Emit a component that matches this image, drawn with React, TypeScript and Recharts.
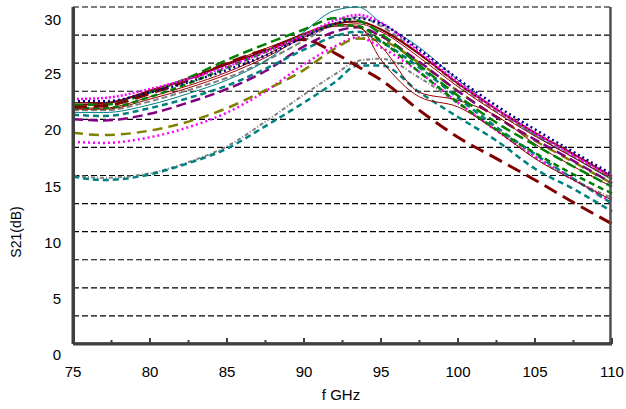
import React from "react";
import { LineChart, Line, XAxis, YAxis, ReferenceLine } from "recharts";

// frequency points (GHz)
const FREQ = [75, 77, 80, 82.5, 85, 87.5, 90, 92, 93.5, 95, 97.5, 100, 102.5, 105, 107.5, 110];

// S21 (dB) per sample
const NAVY_DOT = [21.6, 21.6, 22.4, 23.3, 24.4, 25.7, 27.3, 28.5, 29.0, 28.5, 26.2, 23.6, 21.2, 19.1, 17.1, 15.1];
const MAGENTA_DOT = [21.8, 21.9, 22.7, 23.6, 24.7, 26.0, 27.5, 28.8, 29.3, 28.6, 26.0, 23.3, 20.9, 18.8, 16.8, 14.9];
const GREEN_LONG = [21.3, 21.3, 22.4, 23.7, 25.3, 26.7, 28.0, 29.0, 28.8, 27.6, 24.8, 22.1, 19.7, 17.7, 15.8, 14.0];
const GREEN_SHORT = [21.0, 21.0, 22.0, 23.2, 24.6, 26.0, 27.5, 28.4, 28.3, 27.0, 24.2, 21.5, 19.1, 17.0, 15.1, 13.4];
const RED_THICK = [21.3, 21.4, 22.5, 23.6, 24.9, 26.1, 27.6, 28.5, 28.7, 28.0, 25.8, 23.2, 20.9, 18.8, 16.9, 14.9];
const RED_THIN_C = [21.5, 21.5, 22.6, 23.7, 25.0, 26.3, 27.6, 28.3, 28.5, 27.8, 25.5, 22.9, 20.6, 18.5, 16.6, 14.7];
const RED_THIN_A = [20.9, 20.9, 21.8, 22.8, 24.0, 25.5, 27.3, 28.3, 28.3, 25.3, 22.0, 21.1, 19.0, 16.5, 14.6, 12.8];
const RED_THIN_B = [21.0, 21.0, 22.0, 23.0, 24.2, 25.7, 27.5, 28.5, 28.2, 26.5, 22.4, 21.7, 20.3, 17.8, 15.8, 14.0];
const MAROON_DASH = [21.1, 21.2, 22.3, 23.5, 25.0, 26.2, 27.1, 25.9, 24.7, 23.5, 20.8, 18.4, 16.5, 14.6, 12.6, 10.7];
const TEAL_SOLID = [20.6, 20.6, 21.3, 22.3, 23.5, 25.2, 27.8, 29.7, 30.0, 28.6, 26.4, 23.5, 20.9, 18.6, 16.6, 14.6];
const TEAL_DASH = [20.4, 20.3, 21.0, 21.9, 23.0, 24.5, 26.2, 27.4, 27.8, 26.9, 24.6, 21.9, 19.3, 16.9, 14.7, 12.5];
const GRAY_DASH = [20.8, 20.8, 21.6, 22.6, 23.7, 25.2, 27.0, 28.5, 29.1, 28.3, 25.8, 23.1, 20.7, 18.6, 16.7, 14.7];
const PURPLE_DASH = [20.0, 19.9, 20.5, 21.5, 22.7, 24.3, 26.5, 27.8, 28.2, 27.4, 25.1, 22.5, 20.2, 18.2, 16.3, 14.3];
const OLIVE_DASH = [18.8, 18.6, 19.0, 19.8, 21.0, 22.6, 24.4, 26.3, 27.2, 27.0, 25.0, 22.5, 20.2, 18.1, 16.2, 14.3];
const PINK_LOW = [18.0, 17.9, 18.4, 19.3, 20.6, 22.5, 24.9, 26.5, 27.3, 26.4, 24.2, 21.5, 19.0, 16.7, 14.7, 12.6];
const TEAL_LOW = [14.9, 14.6, 15.1, 16.1, 17.4, 19.4, 21.5, 23.3, 24.8, 24.8, 22.4, 20.2, 18.1, 15.6, 13.8, 11.8];
const GRAY_LOW = [15.0, 14.8, 15.2, 16.2, 17.6, 19.8, 22.2, 24.0, 25.2, 25.4, 23.7, 21.4, 19.0, 16.6, 14.6, 13.0];

const Y_TICKS = [0, 5, 10, 15, 20, 25, 30];
const X_TICKS = [75, 77.5, 80, 82.5, 85, 87.5, 90, 92.5, 95, 97.5, 100, 102.5, 105, 107.5, 110];
const GRID_VALUES = [2.5, 5, 7.5, 10, 12.5, 15, 17.5, 20, 22.5, 25, 27.5, 30];

const SERIES = [
  { key: "grayLow", values: GRAY_LOW, color: "#808080", width: 2, dash: "4 2 1 2" },
  { key: "tealLow", values: TEAL_LOW, color: "#008080", width: 2.5, dash: "6 4" },
  { key: "pinkLow", values: PINK_LOW, color: "#ff00ff", width: 2.5, dash: "2 3" },
  { key: "olive", values: OLIVE_DASH, color: "#808000", width: 2.5, dash: "10 6" },
  { key: "purple", values: PURPLE_DASH, color: "#800080", width: 2.5, dash: "10 5" },
  { key: "gray", values: GRAY_DASH, color: "#808080", width: 2, dash: "6 3" },
  { key: "tealDash", values: TEAL_DASH, color: "#008080", width: 2.5, dash: "6 4" },
  { key: "tealSolid", values: TEAL_SOLID, color: "#008080", width: 1, dash: undefined },
  { key: "redThinA", values: RED_THIN_A, color: "#990000", width: 1, dash: undefined },
  { key: "redThinB", values: RED_THIN_B, color: "#990000", width: 1, dash: undefined },
  { key: "redThinC", values: RED_THIN_C, color: "#990000", width: 1, dash: undefined },
  { key: "redThick", values: RED_THICK, color: "#800000", width: 2, dash: undefined },
  { key: "greenShort", values: GREEN_SHORT, color: "#008000", width: 2.5, dash: "6 4" },
  { key: "greenLong", values: GREEN_LONG, color: "#008000", width: 2.5, dash: "10 5" },
  { key: "maroon", values: MAROON_DASH, color: "#800000", width: 3, dash: "14 7" },
  { key: "magenta", values: MAGENTA_DOT, color: "#ff00ff", width: 2.5, dash: "2 2" },
  { key: "navy", values: NAVY_DOT, color: "#000080", width: 2.5, dash: "2 3" },
];

const data = FREQ.map((f, i) => {
  const row: Record<string, number> = { f };
  SERIES.forEach((s) => {
    row[s.key] = s.values[i];
  });
  return row;
});

const FONT = "'Liberation Sans', Arial, sans-serif";
const AXIS = "#404040";

function XTick(props: any) {
  const { x, y, payload } = props;
  const major = payload.value % 5 === 0;
  return (
    <g>
      <rect x={x - 1} y={y - (major ? 6 : 4)} width={2} height={major ? 6 : 4} fill={AXIS} />
      {major && (
        <text x={x} y={y + 33} textAnchor="middle" fontSize={15} fontFamily={FONT} fill="#000">
          {payload.value}
        </text>
      )}
      {payload.value === 75 && (
        <text x={341} y={y + 56} textAnchor="middle" fontSize={15} fontFamily={FONT} fill="#000">
          f GHz
        </text>
      )}
    </g>
  );
}

function YTick(props: any) {
  const { x, y, payload } = props;
  return (
    <g>
      <text x={x - 12} y={y + 16} textAnchor="end" fontSize={15} fontFamily={FONT} fill="#000">
        {payload.value}
      </text>
      {payload.value === 0 && (
        <text x={21} y={232} transform="rotate(-90 21 232)" textAnchor="middle" fontSize={14} fontFamily={FONT} fill="#000">
          S21(dB)
        </text>
      )}
    </g>
  );
}

export default function App() {
  return (
    <div style={{ position: "absolute", left: 0, top: 0, background: "#fff" }}>
      <LineChart width={626} height={409} data={data} margin={{ top: 7, right: 14, left: 13, bottom: 35 }}>
        <XAxis
          dataKey="f"
          type="number"
          domain={[75, 110]}
          ticks={X_TICKS}
          height={30}
          tickSize={0}
          tickMargin={0}
          tick={<XTick />}
          axisLine={{ stroke: AXIS, strokeWidth: 3 }}
        />
        <YAxis
          type="number"
          domain={[0, 30]}
          ticks={Y_TICKS}
          width={60}
          tickSize={0}
          tickMargin={0}
          tick={<YTick />}
          axisLine={{ stroke: AXIS, strokeWidth: 3 }}
        />
        {GRID_VALUES.map((v) => (
          <ReferenceLine key={v} y={v} stroke="#000" strokeDasharray="6 3" strokeWidth={1.2} />
        ))}
        {SERIES.map((s) => (
          <Line
            key={s.key}
            dataKey={s.key}
            type="monotone"
            stroke={s.color}
            strokeWidth={s.width}
            strokeDasharray={s.dash}
            dot={false}
            isAnimationActive={false}
          />
        ))}
        <ReferenceLine x={109.9} stroke="#505050" strokeWidth={2.5} ifOverflow="visible" />
        <ReferenceLine x={75.05} stroke={AXIS} strokeWidth={2.5} ifOverflow="visible" />
        <ReferenceLine y={0.05} stroke={AXIS} strokeWidth={2.5} ifOverflow="visible" />
      </LineChart>
    </div>
  );
}
